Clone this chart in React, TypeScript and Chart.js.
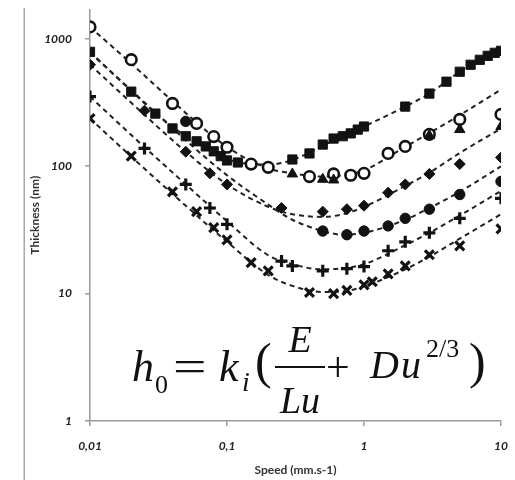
import { useEffect, useRef } from 'react';
import { Chart, registerables } from 'chart.js';

Chart.register(...registerables);

// ---- axes ----
const xTicks = [0.01, 0.1, 1, 10];
const xTickLabels = ['0,01', '0,1', '1', '10'];
const yTicks = [1, 10, 100, 1000];
const yTickLabels = ['1', '10', '100', '1000'];

// ---- measured points (speed mm/s, thickness nm) ----
const openCircleSpeed = [0.01, 0.02, 0.04, 0.06, 0.08, 0.1, 0.15, 0.2, 0.4, 0.6, 0.8, 1, 1.5, 2, 3, 5, 10];
const openCircleThickness = [1240, 686, 311, 217, 171, 141, 104, 98, 83, 87, 85, 88, 126, 143, 178, 233, 255];

const squareSpeed = [0.01, 0.02, 0.03, 0.04, 0.05, 0.06, 0.07, 0.08, 0.09, 0.1, 0.12, 0.3, 0.4, 0.5, 0.6, 0.7, 0.8, 0.9, 1, 2, 3, 4, 5, 6, 7, 8, 9, 10];
const squareThickness = [791, 385, 259, 198, 172, 157, 143, 131, 120, 111, 107, 113, 126, 148, 165, 172, 181, 194, 205, 294, 372, 461, 552, 626, 685, 736, 777, 806];

const triangleSpeed = [0.3, 0.5, 0.6, 3, 5, 10];
const triangleThickness = [87, 79, 78, 174, 194, 205];

const diamondSpeed = [0.01, 0.025, 0.05, 0.075, 0.1, 0.25, 0.5, 0.75, 1, 1.5, 2, 3, 5, 10];
const diamondThickness = [627, 273, 130, 88, 72, 47, 44, 46, 49, 62, 72, 87, 104, 117];

const dotSpeed = [0.05, 0.5, 0.75, 1, 1.5, 2, 3, 5, 10];
const dotThickness = [225, 31, 29, 31, 34, 39, 46, 60, 76];

const plusSpeed = [0.01, 0.025, 0.05, 0.075, 0.1, 0.25, 0.3, 0.5, 0.75, 1, 1.5, 2, 3, 5, 10];
const plusThickness = [352, 138, 72, 47, 35, 18, 16.5, 15.1, 15.7, 16.3, 21.7, 25.5, 30, 39, 56];

const crossSpeed = [0.01, 0.02, 0.04, 0.06, 0.08, 0.1, 0.15, 0.2, 0.4, 0.6, 0.75, 1, 1.15, 1.5, 2, 3, 5, 10];
const crossThickness = [237, 120, 63, 44, 33, 26.4, 17.5, 15.1, 10.2, 10.0, 10.6, 11.7, 12.4, 14.3, 16.5, 20.2, 23.7, 32.2];

// ---- dashed fitted curves ----
const fitSpeed = [0.01, 0.02, 0.05, 0.1, 0.2, 0.3, 0.5, 0.7, 1, 2, 3, 5, 10];
const fitOpenCircle = [1240, 640, 262, 142, 96, 88, 83, 85, 93, 142, 182, 252, 400];
const fitDiamond = [627, 315, 130, 72, 48, 42, 40, 42, 48, 70, 89, 127, 198];
const fitDot = [780, 395, 160, 85, 50, 38, 31, 29, 30, 38, 47, 63, 100];
const fitPlus = [352, 176, 72, 37, 20, 17, 15.5, 15.8, 17, 24, 30, 41, 64];
const fitCross = [237, 119, 49, 25.5, 14, 11.5, 10.3, 10.4, 11.4, 15.5, 19.5, 27, 42];

const squareFitSpeed = [0.01, 0.02, 0.03, 0.05, 0.07, 0.1, 0.15, 0.2, 0.3, 0.5, 0.7, 1, 2, 3, 5, 7, 10];
const fitSquare = [790, 390, 262, 172, 140, 114, 104, 103, 112, 145, 172, 205, 294, 372, 552, 685, 806];

const INK = '#121212';

const pts = (xs: number[], ys: number[]) => xs.map((x, i) => ({ x, y: ys[i] }));

const fitLine = (xs: number[], ys: number[]) => ({
  data: pts(xs, ys),
  showLine: true,
  borderColor: '#222',
  borderWidth: 2,
  borderDash: [5, 4],
  pointRadius: 0,
  cubicInterpolationMode: 'monotone' as const,
  fill: false,
  order: 10,
});

const marker = (xs: number[], ys: number[], style: any, radius: number, extra: any = {}) => ({
  data: pts(xs, ys),
  showLine: false,
  pointStyle: style,
  pointRadius: radius,
  pointBorderColor: INK,
  pointBackgroundColor: INK,
  pointBorderWidth: 1,
  order: 1,
  ...extra,
});

const borderPlugin = {
  id: 'frameLine',
  beforeDraw(chart: any) {
    const ctx = chart.ctx;
    ctx.save();
    ctx.fillStyle = '#ffffff';
    ctx.fillRect(0, 0, chart.width, chart.height);
    ctx.fillStyle = '#a8a8a8';
    ctx.fillRect(23.5, 8, 1.5, chart.height - 8);
    ctx.restore();
  },
};

const formulaPlugin = {
  id: 'formula',
  afterDraw(chart: any) {
    const ctx = chart.ctx as CanvasRenderingContext2D;
    const serif = '"Liberation Serif", "DejaVu Serif", serif';
    ctx.save();
    ctx.fillStyle = '#111';
    ctx.textBaseline = 'alphabetic';
    const put = (t: string, x: number, y: number, font: string, sx = 1, align: CanvasTextAlign = 'left') => {
      ctx.save();
      ctx.font = font;
      ctx.textAlign = align;
      ctx.translate(x, y);
      ctx.scale(sx, 1);
      ctx.fillText(t, 0, 0);
      ctx.restore();
    };
    put('h', 132, 381, `italic 44px ${serif}`);
    put('0', 155, 393, `26px ${serif}`);
    put('=', 173, 381, `44px ${serif}`, 1.35);
    put('k', 219, 381, `italic 44px ${serif}`);
    put('i', 242, 391, `italic 28px ${serif}`);
    put('(', 255, 378, `50px ${serif}`);
    put('E', 300, 352, `italic 38px ${serif}`, 1, 'center');
    put('Lu', 300, 413, `italic 38px ${serif}`, 1, 'center');
    ctx.fillRect(275, 366, 50, 2);
    put('+', 326, 381, `42px ${serif}`);
    put('D', 370, 378, `italic 40px ${serif}`);
    put('u', 401, 378, `italic 40px ${serif}`);
    put('2/3', 426, 357, `26px ${serif}`);
    put(')', 469, 378, `50px ${serif}`);
    ctx.restore();
  },
};

export default function App() {
  const ref = useRef<HTMLCanvasElement>(null);

  useEffect(() => {
    if (!ref.current) return;
    const tickFont = { family: 'Lato, "Open Sans", sans-serif', size: 12, weight: 'bold' as const, style: 'italic' as const };
    const titleFont = { family: 'Lato, "Open Sans", sans-serif', size: 12, weight: 'bold' as const };
    const chart = new Chart(ref.current, {
      type: 'scatter',
      data: {
        datasets: [
          fitLine(fitSpeed, fitOpenCircle),
          fitLine(squareFitSpeed, fitSquare),
          fitLine(fitSpeed, fitDiamond),
          fitLine(fitSpeed, fitDot),
          fitLine(fitSpeed, fitPlus),
          fitLine(fitSpeed, fitCross),
          marker(squareSpeed, squareThickness, 'rect', 6.5),
          marker(triangleSpeed, triangleThickness, 'triangle', 6),
          marker(openCircleSpeed, openCircleThickness, 'circle', 5.3, { pointBackgroundColor: '#ffffff', pointBorderWidth: 2.6 }),
          marker(diamondSpeed, diamondThickness, 'rectRot', 5.5),
          marker(dotSpeed, dotThickness, 'circle', 5.2),
          marker(plusSpeed, plusThickness, 'cross', 6, { pointBorderWidth: 3.2 }),
          marker(crossSpeed, crossThickness, 'crossRot', 6.3, { pointBorderWidth: 3.2 }),
        ] as any,
      },
      options: {
        animation: false,
        responsive: false,
        devicePixelRatio: 1,
        layout: { padding: { left: 0, right: 14, top: 8, bottom: 0 } },
        plugins: { legend: { display: false }, tooltip: { enabled: false } },
        scales: {
          x: {
            type: 'logarithmic',
            min: 0.01,
            max: 10,
            afterBuildTicks: (s: any) => { s.ticks = xTicks.map((v) => ({ value: v })); },
            afterFit: (s: any) => { s.height = 59; s.paddingLeft = 0; s.paddingRight = 0; },
            grid: { drawOnChartArea: false, drawTicks: true, tickLength: 5, color: '#9a9a9a', lineWidth: 1.5 },
            border: { display: true, color: '#9a9a9a', width: 1.5 },
            ticks: {
              autoSkip: false,
              maxRotation: 0,
              padding: 13,
              color: '#222',
              font: tickFont,
              callback: (_v: any, i: number) => xTickLabels[i],
            },
            title: { display: true, text: 'Speed (mm.s-1)', color: '#333', font: titleFont, padding: { top: 0, bottom: 3 } },
          },
          y: {
            type: 'logarithmic',
            min: 1,
            max: 1700,
            afterBuildTicks: (s: any) => { s.ticks = yTicks.map((v) => ({ value: v })); },
            afterFit: (s: any) => { s.width = 90; s.paddingTop = 0; s.paddingBottom = 0; },
            grid: { drawOnChartArea: false, drawTicks: true, tickLength: 5, color: '#9a9a9a', lineWidth: 1.5 },
            border: { display: true, color: '#9a9a9a', width: 1.5 },
            ticks: {
              autoSkip: false,
              padding: 13,
              color: '#222',
              font: tickFont,
              callback: (_v: any, i: number) => yTickLabels[i],
            },
            title: { display: true, text: 'Thickness (nm)', color: '#333', font: titleFont, padding: { top: 28, bottom: 0 } },
          },
        },
      },
      plugins: [borderPlugin, formulaPlugin],
    });
    return () => chart.destroy();
  }, []);

  return (
    <div style={{ position: 'absolute', left: 0, top: 0, width: 515, height: 480, background: '#fff' }}>
      <canvas ref={ref} width={515} height={480} />
    </div>
  );
}
